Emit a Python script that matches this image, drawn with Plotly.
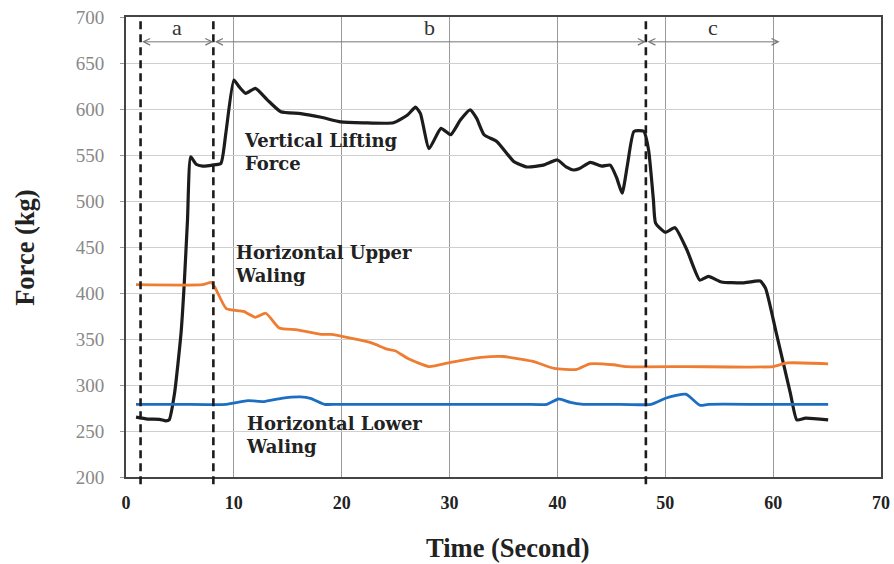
import plotly.graph_objects as go

# ---- data ----
t_vert = [0.93, 2.0, 3.1, 3.7, 4.0, 4.5, 5.1, 5.4, 5.7, 6.0, 6.5, 7.1, 8.0, 8.8, 9.26, 10.0, 10.5, 11.1, 12.0,
          13.1, 14.35, 16.2, 18.1, 19.9, 22.0, 24.8, 26.1, 26.85, 27.3, 28.1, 29.2, 30.1, 31.0, 31.9, 32.5,
          33.2, 34.4, 35.95, 37.2, 38.7, 40.0, 40.8, 41.5, 42.0, 43.05, 44.1, 44.9, 45.5, 46.0, 46.5, 47.1,
          48.0, 48.45, 48.9, 49.1, 50.0, 50.9, 52.0, 53.2, 54.0, 55.2, 57.2, 58.8, 59.3, 60.3, 61.6, 62.2,
          63.0, 65.1]
f_vert = [265, 263, 262.7, 261, 262, 291, 356, 410, 479, 548, 540, 538, 539, 541, 574, 631.5, 624, 617, 622.5,
          610, 597, 595, 591, 586, 585, 585, 593.5, 602, 595, 557, 579, 572, 588, 599, 590,
          572, 564.5, 543, 537, 539, 544.6, 537, 533.7, 535, 542, 538, 539, 525, 508.4, 540, 575.7,
          575.7, 555.4, 501, 476, 466, 471, 447, 414, 418, 412, 411, 413, 405, 356, 291, 262,
          264, 262]

t_upper = [0.93, 7.1, 7.9, 8.3, 9.3, 10.9, 12.0, 12.97, 14.2, 15.9, 18.1, 19.0, 22.7, 24.2, 25.0, 26.1, 28.1,
           30.1, 32.9, 35.0, 36.6, 37.8, 39.7, 41.8, 43.0, 45.2, 46.4, 52.0, 60.0, 61.3, 65.1]
f_upper = [409, 409, 411.6, 405, 383, 380, 373.6, 378, 362, 360, 355, 355, 346, 339, 337, 329, 320,
           324.6, 330, 331, 328, 325.4, 318, 317, 323, 322, 320, 320, 320, 324, 323]

t_lower = [0.93, 5.0, 9.3, 11.3, 12.8, 14.4, 16.2, 17.1, 18.4, 19.5, 25.0, 31.0, 37.0, 39.0, 40.1, 41.2, 42.4,
           45.0, 48.7, 50.1, 51.9, 53.2, 54.0, 59.0, 65.1]
f_lower = [279, 279, 279, 283, 282, 285.5, 287, 285.5, 279, 279, 279, 279, 279, 279, 284.8, 281, 279,
           279, 279, 285.9, 290, 278, 279, 279, 279]

phase_bounds = [1.35, 8.1, 48.2]
phase_c_end = 60.6
phase_labels = ["a", "b", "c"]
arrow_level = 673

x_ticks = [0, 10, 20, 30, 40, 50, 60, 70]
y_ticks = [200, 250, 300, 350, 400, 450, 500, 550, 600, 650, 700]

serif = "Liberation Serif, Times New Roman, serif"
label_serif = "DejaVu Serif, serif"

fig = go.Figure()
fig.add_trace(go.Scatter(x=t_vert, y=f_vert, mode="lines", line=dict(color="#1c1c1c", width=3.2, shape="spline", smoothing=0.5),
                         name="Vertical Lifting Force"))
fig.add_trace(go.Scatter(x=t_upper, y=f_upper, mode="lines", line=dict(color="#EE7D31", width=2.8, shape="spline", smoothing=0.5),
                         name="Horizontal Upper Waling"))
fig.add_trace(go.Scatter(x=t_lower, y=f_lower, mode="lines", line=dict(color="#1B6EC2", width=2.8, shape="spline", smoothing=0.5),
                         name="Horizontal Lower Waling"))

# dashed phase boundaries
for xb in phase_bounds:
    fig.add_shape(type="line", xref="x", yref="paper", x0=xb, x1=xb, y0=-0.016, y1=1,
                  line=dict(color="#1c1c1c", width=2.6, dash="8px,5px"))

# double-headed arrows for phases
ends = phase_bounds[1:] + [phase_c_end]
for start, end, lab in zip(phase_bounds, ends, phase_labels):
    fig.add_annotation(x=end, y=arrow_level, ax=start, ay=arrow_level, xref="x", yref="y", axref="x", ayref="y",
                       text="", showarrow=True, arrowhead=5, startarrowhead=5, arrowside="end+start",
                       arrowsize=1.3, startarrowsize=1.3, arrowwidth=1, arrowcolor="#777777")
    fig.add_annotation(x=(start + end) / 2, y=arrow_level, yshift=14, text=lab, showarrow=False,
                       font=dict(family=serif, size=22, color="#333333"), xref="x", yref="y")

label_font = dict(family=label_serif, size=18, color="#222222")
fig.add_annotation(x=10.8, y=553, text="<b>Vertical Lifting<br>Force</b>", showarrow=False, xanchor="left",
                   yanchor="middle", align="left", font=label_font)
fig.add_annotation(x=9.9, y=431.5, text="<b>Horizontal Upper<br>Waling</b>", showarrow=False, xanchor="left",
                   yanchor="middle", align="left", font=label_font)
fig.add_annotation(x=10.9, y=246, text="<b>Horizontal Lower<br>Waling</b>", showarrow=False, xanchor="left",
                   yanchor="middle", align="left", font=label_font)

# axis titles
fig.add_annotation(xref="paper", yref="paper", x=0.506, y=-0.154, text="<b>Time (Second)</b>", showarrow=False,
                   xanchor="center", yanchor="middle", font=dict(family=serif, size=26.5, color="#222222"))
fig.add_annotation(xref="paper", yref="paper", x=-0.134, y=0.5, text="<b>Force (kg)</b>", showarrow=False,
                   textangle=-90, xanchor="center", yanchor="middle", font=dict(family=serif, size=26.5, color="#222222"))

fig.update_layout(
    width=894, height=564,
    margin=dict(l=126, r=13, t=17, b=87),
    paper_bgcolor="white", plot_bgcolor="white",
    showlegend=False,
    font=dict(family=serif),
)
fig.update_xaxes(range=[0, 70], tickvals=x_ticks, ticktext=[f"<b>{v}</b>" for v in x_ticks],
                 tickfont=dict(family=serif, size=18, color="#222222"), automargin=False,
                 showgrid=True, gridcolor="#9a9a9a", gridwidth=1,
                 showline=True, linecolor="#444444", linewidth=2, mirror=True,
                 ticks="", zeroline=False, ticklabelstandoff=8)
fig.update_yaxes(range=[200, 700], tickvals=y_ticks, automargin=False,
                 tickfont=dict(family=serif, size=19, color="#888888"),
                 showgrid=True, gridcolor="#cfcfcf", gridwidth=1.2,
                 showline=True, linecolor="#444444", linewidth=2, mirror=True,
                 ticks="outside", ticklen=4, tickcolor="#999999", zeroline=False, ticklabelstandoff=12)

fig.write_html("out.html", config={"displayModeBar": False},
               post_script="document.body.style.margin='0';document.body.style.overflow='hidden';")
